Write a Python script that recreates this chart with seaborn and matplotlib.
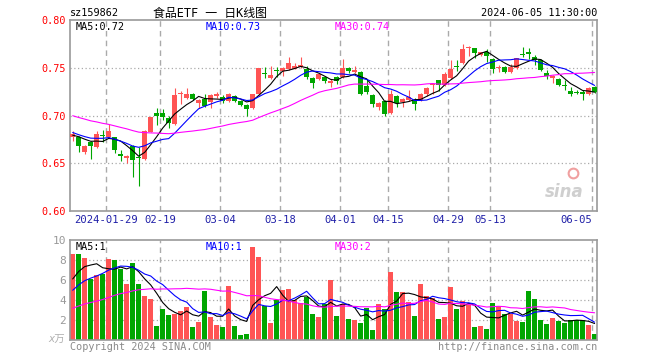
import numpy as np
import pandas as pd
import matplotlib
matplotlib.use("Agg")
import matplotlib.pyplot as plt
import seaborn as sns

# trading days shown, 2024-01-19 .. 2024-06-05
dates = (["01-19", "01-22", "01-23", "01-24", "01-25", "01-26", "01-29", "01-30", "01-31",
          "02-01", "02-02", "02-05", "02-06", "02-07", "02-08", "02-19", "02-20", "02-21",
          "02-22", "02-23", "02-26", "02-27", "02-28", "02-29",
          "03-01", "03-04", "03-05", "03-06", "03-07", "03-08", "03-11", "03-12", "03-13",
          "03-14", "03-15", "03-18", "03-19", "03-20", "03-21", "03-22", "03-25", "03-26",
          "03-27", "03-28", "03-29",
          "04-01", "04-02", "04-03", "04-08", "04-09", "04-10", "04-11", "04-12", "04-15",
          "04-16", "04-17", "04-18", "04-19", "04-22", "04-23", "04-24", "04-25", "04-26",
          "04-29", "04-30",
          "05-06", "05-07", "05-08", "05-09", "05-10", "05-13", "05-14", "05-15", "05-16",
          "05-17", "05-20", "05-21", "05-22", "05-23", "05-24", "05-27", "05-28", "05-29",
          "05-30", "05-31",
          "06-03", "06-04", "06-05"])

opens = [0.677, 0.678, 0.662, 0.672, 0.667, 0.680, 0.677, 0.677, 0.660, 0.656,
         0.668, 0.656, 0.654, 0.683, 0.703, 0.703, 0.697, 0.691, 0.722, 0.718,
         0.723, 0.713, 0.717, 0.714, 0.720, 0.719, 0.715, 0.720, 0.715, 0.711,
         0.708, 0.722, 0.744, 0.739, 0.748, 0.747, 0.749, 0.749, 0.751, 0.749,
         0.739, 0.738, 0.740, 0.734, 0.740, 0.740, 0.750, 0.746, 0.746, 0.731,
         0.721, 0.709, 0.715, 0.703, 0.720, 0.714, 0.716, 0.716, 0.716, 0.723,
         0.732, 0.737, 0.732, 0.739, 0.752, 0.755, 0.771, 0.771, 0.763, 0.767,
         0.759, 0.750, 0.751, 0.746, 0.750, 0.764, 0.767, 0.761, 0.758, 0.745,
         0.739, 0.738, 0.732, 0.726, 0.725, 0.725, 0.722, 0.730]
highs = [0.684, 0.679, 0.669, 0.673, 0.684, 0.685, 0.691, 0.678, 0.664, 0.659,
         0.669, 0.667, 0.685, 0.698, 0.708, 0.707, 0.699, 0.729, 0.726, 0.729,
         0.724, 0.717, 0.722, 0.722, 0.725, 0.721, 0.724, 0.721, 0.716, 0.712,
         0.723, 0.750, 0.751, 0.752, 0.751, 0.751, 0.761, 0.755, 0.761, 0.752,
         0.740, 0.745, 0.741, 0.738, 0.741, 0.759, 0.751, 0.752, 0.747, 0.738,
         0.722, 0.714, 0.716, 0.727, 0.721, 0.718, 0.727, 0.718, 0.724, 0.730,
         0.734, 0.737, 0.746, 0.758, 0.758, 0.775, 0.773, 0.771, 0.767, 0.770,
         0.760, 0.753, 0.752, 0.754, 0.760, 0.772, 0.771, 0.763, 0.759, 0.748,
         0.742, 0.739, 0.737, 0.730, 0.727, 0.727, 0.730, 0.731]
lows = [0.673, 0.662, 0.660, 0.654, 0.666, 0.672, 0.676, 0.661, 0.652, 0.650,
        0.636, 0.626, 0.653, 0.683, 0.690, 0.695, 0.687, 0.690, 0.712, 0.717,
        0.716, 0.708, 0.709, 0.708, 0.718, 0.713, 0.714, 0.714, 0.710, 0.700,
        0.707, 0.721, 0.739, 0.738, 0.740, 0.741, 0.748, 0.749, 0.750, 0.738,
        0.729, 0.737, 0.734, 0.730, 0.733, 0.739, 0.744, 0.744, 0.721, 0.722,
        0.709, 0.706, 0.700, 0.702, 0.709, 0.709, 0.715, 0.706, 0.715, 0.720,
        0.722, 0.726, 0.731, 0.738, 0.747, 0.754, 0.762, 0.760, 0.762, 0.756,
        0.745, 0.746, 0.745, 0.744, 0.749, 0.761, 0.759, 0.753, 0.747, 0.738,
        0.734, 0.731, 0.727, 0.720, 0.722, 0.716, 0.721, 0.724]
closes = [0.681, 0.668, 0.668, 0.668, 0.681, 0.679, 0.684, 0.664, 0.658, 0.657,
          0.653, 0.655, 0.684, 0.698, 0.699, 0.698, 0.692, 0.721, 0.723, 0.723,
          0.717, 0.716, 0.710, 0.721, 0.722, 0.715, 0.723, 0.715, 0.711, 0.707,
          0.722, 0.750, 0.743, 0.742, 0.747, 0.750, 0.755, 0.752, 0.753, 0.740,
          0.734, 0.743, 0.736, 0.736, 0.736, 0.750, 0.747, 0.748, 0.722, 0.725,
          0.712, 0.713, 0.702, 0.722, 0.713, 0.717, 0.719, 0.712, 0.723, 0.729,
          0.733, 0.732, 0.743, 0.749, 0.751, 0.770, 0.772, 0.765, 0.767, 0.762,
          0.749, 0.751, 0.746, 0.751, 0.760, 0.763, 0.764, 0.758, 0.748, 0.741,
          0.741, 0.732, 0.731, 0.722, 0.724, 0.722, 0.729, 0.725]
volumes = [8.63, 8.63, 8.23, 6.10, 6.53, 6.63, 8.13, 8.03, 7.13, 5.63,
           7.73, 5.63, 4.43, 4.13, 1.43, 3.13, 2.53, 2.63, 2.87, 3.33,
           1.27, 1.83, 4.93, 2.33, 1.53, 1.27, 5.43, 1.43, 0.53, 0.63,
           9.27, 8.27, 3.43, 1.73, 4.00, 4.97, 5.07, 4.00, 3.73, 4.27,
           2.63, 2.33, 3.63, 5.97, 2.43, 3.63, 2.13, 2.03, 1.73, 3.23,
           1.03, 3.63, 3.13, 6.80, 4.83, 4.83, 3.83, 2.43, 5.63, 4.43,
           4.20, 2.13, 2.33, 5.33, 3.13, 3.93, 3.63, 1.33, 1.43, 1.13,
           3.73, 3.43, 2.63, 2.63, 1.93, 1.83, 4.93, 4.13, 2.03, 1.63,
           2.23, 1.93, 1.73, 2.03, 2.03, 2.03, 1.53, 0.63]

# sessions before the window (not drawn), back-solved from where the MA lines start
prior_close = [0.724, 0.718, 0.722, 0.716, 0.723, 0.717, 0.711, 0.706, 0.702, 0.708,
               0.703, 0.700, 0.707, 0.704, 0.709, 0.701, 0.703, 0.698, 0.702, 0.697,
               0.691, 0.688, 0.684, 0.683, 0.679, 0.676, 0.681, 0.679, 0.680]
prior_volume = [1.6, 2.1, 1.8, 2.4, 1.7, 2.0, 1.5, 2.1, 2.4, 2.9,
                2.2, 3.1, 2.5, 2.8, 2.3, 2.6, 2.1, 2.6, 2.2, 2.4,
                3.2, 4.1, 3.5, 4.4, 4.0, 4.9, 5.8, 5.3, 5.9]

tick_dates = ["01-29", "02-19", "03-04", "03-18", "04-01", "04-15", "04-29", "05-13", "06-05"]
tick_labels = ["2024-01-29", "02-19", "03-04", "03-18", "04-01", "04-15", "04-29", "05-13", "06-05"]
price_ticks = [0.60, 0.65, 0.70, 0.75, 0.80]
vol_ticks = [2, 4, 6, 8, 10]

UP, DOWN = "#ff5454", "#00a600"
GRID = "#aaaaaa"
MONO = ["DejaVu Sans Mono", "Noto Sans CJK SC"]

sns.set_theme(style="white")
plt.rcParams["font.family"] = MONO

df = pd.DataFrame({"date": dates, "open": opens, "high": highs, "low": lows,
                   "close": closes, "vol": volumes})
df["i"] = np.arange(len(df))
df["color"] = np.where(df["close"] >= df["open"], UP, DOWN)

n_prior = len(prior_close)
c_all = pd.Series(prior_close + closes)
v_all = pd.Series(prior_volume + volumes)
for w in (5, 10, 30):
    df[f"ma{w}"] = c_all.rolling(w).mean().iloc[n_prior:].to_numpy()
    df[f"vma{w}"] = v_all.rolling(w).mean().iloc[n_prior:].to_numpy()


def trunc2(x):
    # sina cuts the readout, it does not round it
    return f"{np.floor(x * 100) / 100:.2f}"


W, H = 660, 360
fig = plt.figure(figsize=(6.6, 3.6), dpi=100)
ax = fig.add_axes([70 / W, 1 - 211 / H, 527 / W, 191 / H])
axv = fig.add_axes([70 / W, 1 - 340 / H, 527 / W, 100 / H])

xlim = (-0.45, len(df) - 0.6)
tick_pos = [df.index[df["date"] == d][0] - 0.45 for d in tick_dates]

for a in (ax, axv):
    a.set_xlim(*xlim)
    for s in a.spines.values():
        s.set_color("#9a9a9a")
        s.set_linewidth(1.2)
    for x in tick_pos:
        a.axvline(x, color=GRID, ls=(0, (4, 3)), lw=1, zorder=0)

# price panel
for p in price_ticks[1:-1]:
    ax.axhline(p, color=GRID, ls=(0, (1, 2)), lw=0.9, zorder=0)
body = (df["close"] - df["open"]).abs().clip(lower=0.0011)
bottom = df[["open", "close"]].min(axis=1)
ax.vlines(df["i"], df["low"], df["high"], colors=df["color"].tolist(), lw=0.8, zorder=2)
ax.bar(df["i"], body, bottom=bottom, width=0.8, color=df["color"].tolist(), linewidth=0, zorder=3)
for col, c in (("ma5", "black"), ("ma10", "#0000ff"), ("ma30", "#ff00ff")):
    sns.lineplot(data=df, x="i", y=col, ax=ax, color=c, lw=0.8, zorder=4)
ax.set_ylim(price_ticks[0], price_ticks[-1])
ax.set_yticks(price_ticks)
ax.set_yticklabels([f"{p:.2f}" for p in price_ticks], color="#ff0000", fontsize=7.3)
ax.set_xticks(tick_pos)
ax.set_xticklabels(tick_labels, color="#1f1fa8", fontsize=7.6)
ax.get_xticklabels()[-1].set_ha("right")
ax.tick_params(length=0, pad=3)
ax.set_xlabel("")
ax.set_ylabel("")

ax.text(0.01, 0.965, f"MA5:{trunc2(df['ma5'].iloc[-1])}", transform=ax.transAxes,
        fontsize=7.3, color="black", va="center")
ax.text(0.257, 0.965, f"MA10:{trunc2(df['ma10'].iloc[-1])}", transform=ax.transAxes,
        fontsize=7.3, color="#0000ff", va="center")
ax.text(0.503, 0.965, f"MA30:{trunc2(df['ma30'].iloc[-1])}", transform=ax.transAxes,
        fontsize=7.3, color="#ff00ff", va="center")
ax.text(0.975, 0.1, "sina", transform=ax.transAxes, fontsize=12, fontweight="bold",
        fontstyle="italic", color="#cfcfcf", ha="right", va="center", family="DejaVu Sans")
ax.plot([0.955], [0.2], "o", transform=ax.transAxes, ms=7, mfc="none", mec="#f0a0a0", mew=1.5)

# volume panel
for v in vol_ticks[:-1]:
    axv.axhline(v, color=GRID, ls=(0, (1, 2)), lw=0.9, zorder=0)
axv.bar(df["i"], df["vol"], width=0.8, color=df["color"].tolist(), linewidth=0, zorder=2)
for col, c in (("vma5", "black"), ("vma10", "#0000ff"), ("vma30", "#ff00ff")):
    sns.lineplot(data=df, x="i", y=col, ax=axv, color=c, lw=0.8, zorder=4)
axv.set_ylim(0, vol_ticks[-1])
axv.set_yticks(vol_ticks)
axv.set_yticklabels([str(v) for v in vol_ticks], color="#999999", fontsize=8)
axv.set_xticks([])
axv.tick_params(length=0, pad=3)
axv.set_xlabel("")
axv.set_ylabel("")
axv.text(-0.01, 0.0, "x万", transform=axv.transAxes, fontsize=7.5, color="#b0b0b0",
         ha="right", va="center", fontstyle="italic")

axv.text(0.01, 0.93, f"MA5:{int(df['vma5'].iloc[-1])}", transform=axv.transAxes,
         fontsize=7.3, color="black", va="center")
axv.text(0.257, 0.93, f"MA10:{int(df['vma10'].iloc[-1])}", transform=axv.transAxes,
         fontsize=7.3, color="#0000ff", va="center")
axv.text(0.503, 0.93, f"MA30:{int(df['vma30'].iloc[-1])}", transform=axv.transAxes,
         fontsize=7.3, color="#ff00ff", va="center")

# header / footer
fig.text(70 / W, 1 - 13 / H, "sz159862", fontsize=7.3, color="black", va="center")
fig.text(210 / W, 1 - 13 / H, "食品ETF 一 日K线图", fontsize=8.6, color="black",
         ha="center", va="center")
fig.text(597 / W, 1 - 13 / H, "2024-06-05 11:30:00", fontsize=7.3, color="black",
         ha="right", va="center")
fig.text(70 / W, 1 - 347 / H, "Copyright 2024 SINA.COM", fontsize=7.3, color="#8a8a8a",
         va="center")
fig.text(597 / W, 1 - 347 / H, "http://finance.sina.com.cn", fontsize=7.3, color="#8a8a8a",
         ha="right", va="center")

fig.savefig("out.png", dpi=100)
